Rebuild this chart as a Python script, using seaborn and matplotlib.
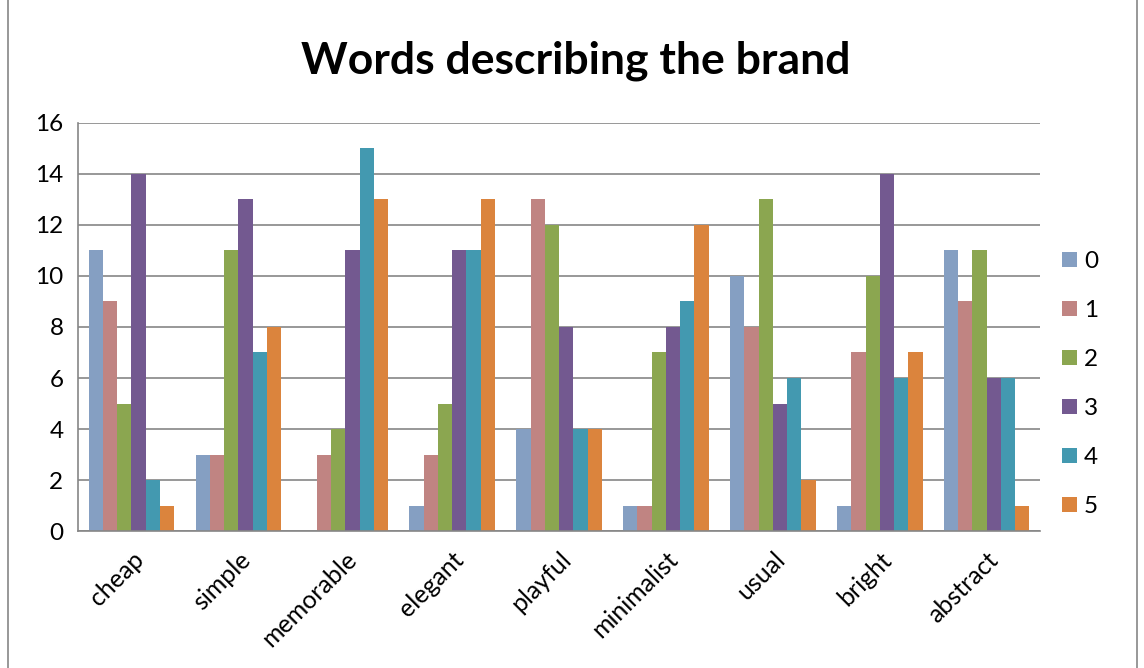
import pandas as pd
import seaborn as sns
import matplotlib.pyplot as plt
from matplotlib.lines import Line2D

# words on the x axis
words = ["cheap", "simple", "memorable", "elegant", "playful",
         "minimalist", "usual", "bright", "abstract"]
ratings = ["0", "1", "2", "3", "4", "5"]

# counts per rating, one list per word
cheap = [11, 9, 5, 14, 2, 1]
simple = [3, 3, 11, 13, 7, 8]
memorable = [0, 3, 4, 11, 15, 13]
elegant = [1, 3, 5, 11, 11, 13]
playful = [4, 13, 12, 8, 4, 4]
minimalist = [1, 1, 7, 8, 9, 12]
usual = [10, 8, 13, 5, 6, 2]
bright = [1, 7, 10, 14, 6, 7]
abstract = [11, 9, 11, 6, 6, 1]

counts = [cheap, simple, memorable, elegant, playful,
          minimalist, usual, bright, abstract]

colors = ["#859FC2", "#C08482", "#8BA650", "#735990", "#4399B0", "#DB843D"]

rows = []
for word, vals in zip(words, counts):
    for rating, v in zip(ratings, vals):
        rows.append({"word": word, "rating": rating, "count": v})
df = pd.DataFrame(rows)

sns.set_style("white")
plt.rcParams["font.family"] = ["Lato", "DejaVu Sans"]
plt.rcParams["text.color"] = "black"
plt.rcParams["xtick.color"] = "black"
plt.rcParams["ytick.color"] = "black"

fig = plt.figure(figsize=(11.44, 6.68), dpi=100)
ax = fig.add_axes([0.0682, 0.205, 0.841, 0.611])

sns.barplot(data=df, x="word", y="count", hue="rating", order=words,
            hue_order=ratings, palette=colors, width=0.8, gap=0,
            saturation=1, edgecolor="none", ax=ax)

ax.set_ylim(0, 16)
ax.set_yticks(range(0, 17, 2))
ax.set_xlim(-0.5, len(words) - 0.5)
ax.yaxis.grid(True, color="#868686", linewidth=1.2)
ax.set_axisbelow(True)
ax.set_xlabel("")
ax.set_ylabel("")

for s in ["top", "right"]:
    ax.spines[s].set_visible(False)
for s in ["left", "bottom"]:
    ax.spines[s].set_color("#868686")
    ax.spines[s].set_linewidth(1.2)

# category ticks sit on the boundaries between groups
ax.set_xticks([i - 0.5 for i in range(len(words) + 1)], minor=True)
ax.tick_params(axis="x", which="minor", length=7, color="#868686", width=1.2, direction="out")
ax.tick_params(axis="x", which="major", length=0, pad=12)
ax.tick_params(axis="y", length=7, color="#868686", width=1.2, direction="out",
               labelsize=17.5, labelcolor="black")
ax.set_xticks(range(len(words)))
ax.set_xticklabels(words, rotation=45, ha="right", rotation_mode="anchor",
                   fontsize=18, color="black")

fig.suptitle("Words describing the brand", fontsize=32, fontweight="bold",
             x=0.503, y=0.94, color="black")

leg = ax.legend(title=None, frameon=False, loc="center left",
                bbox_to_anchor=(1.0, 0.36), fontsize=17.5,
                handlelength=0.6, handleheight=0.6, handletextpad=0.3,
                labelspacing=1.15)
for t in leg.get_texts():
    t.set_color("black")

# thin frame lines around the chart, like the source
fig.add_artist(Line2D([0.007, 0.007], [0, 1], color="#868686", linewidth=1.2))
fig.add_artist(Line2D([0.994, 0.994], [0, 1], color="#868686", linewidth=1.2))

plt.savefig("out.png", dpi=100)
